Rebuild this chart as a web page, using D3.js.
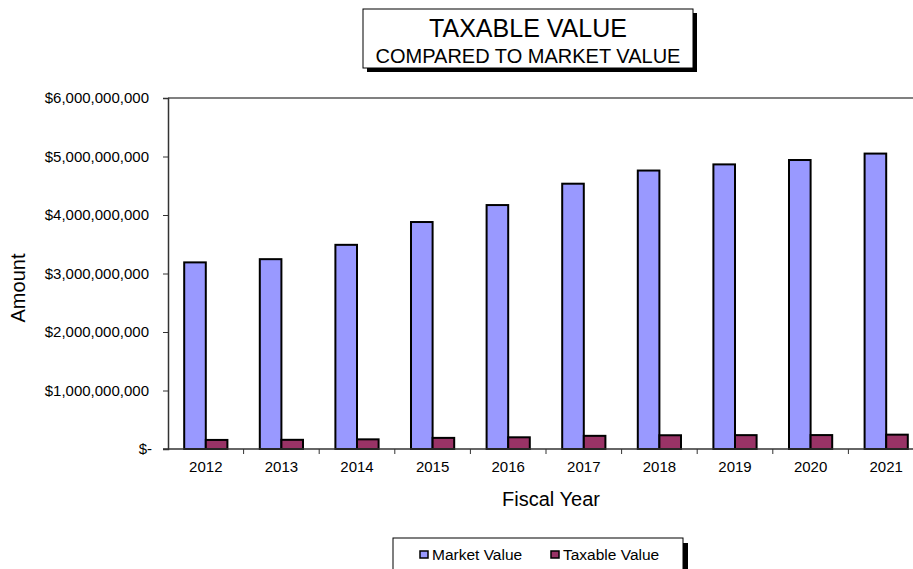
<!DOCTYPE html>
<html>
<head>
<meta charset="utf-8">
<script src="https://cdn.jsdelivr.net/npm/d3@7"></script>
<style>
  body { margin: 0; background: #fff; }
  svg { display: block; font-family: "Liberation Sans", Arial, sans-serif; }
</style>
</head>
<body>
<svg id="chart" width="913" height="569"></svg>
<script>
// data
const years = ["2012", "2013", "2014", "2015", "2016", "2017", "2018", "2019", "2020", "2021"];
const marketValue = [3.19e9, 3.245e9, 3.49e9, 3.88e9, 4.17e9, 4.535e9, 4.76e9, 4.865e9, 4.94e9, 5.05e9];
const taxableValue = [0.155e9, 0.157e9, 0.165e9, 0.19e9, 0.2e9, 0.225e9, 0.235e9, 0.237e9, 0.238e9, 0.245e9];
const seriesNames = ["Market Value", "Taxable Value"];
const yTicks = [0, 1e9, 2e9, 3e9, 4e9, 5e9, 6e9];

const colors = { "Market Value": "#9999FF", "Taxable Value": "#993366" };

const dims = { left: 168, top: 98, right: 924, bottom: 449 };

const svg = d3.select("#chart");

const x = d3.scaleBand().domain(years).range([dims.left, dims.right]).paddingInner(0).paddingOuter(0);
const x1 = d3.scaleBand().domain(seriesNames).range([0, x.bandwidth()]).paddingInner(0).paddingOuter(0.75);
const y = d3.scaleLinear().domain([0, 6e9]).range([dims.bottom, dims.top]);

const rows = years.map((yr, i) => ({ year: yr, values: [
  { name: "Market Value", v: marketValue[i] },
  { name: "Taxable Value", v: taxableValue[i] }
]}));

// plot area top border
svg.append("line").attr("x1", dims.left).attr("x2", 913).attr("y1", dims.top).attr("y2", dims.top)
  .attr("stroke", "#808080").attr("stroke-width", 2);

// y axis
const yAxis = svg.append("g").attr("transform", `translate(${dims.left},0)`)
  .call(d3.axisLeft(y).tickValues(yTicks).tickSize(5).tickPadding(14)
    .tickFormat(d => d === 0 ? "$-" : "$" + d3.format(",")(d)));
yAxis.select(".domain").attr("stroke", "#333").attr("stroke-width", 1.5);
yAxis.selectAll(".tick line").attr("stroke", "#333");
yAxis.selectAll("text").attr("font-size", 15).attr("fill", "#000").attr("font-family", "Liberation Sans, Arial, sans-serif");
yAxis.selectAll(".tick").filter(d => d === 0).select("text").attr("dx", 3);

// bars
const groups = svg.append("g").selectAll("g").data(rows).join("g")
  .attr("transform", d => `translate(${x(d.year)},0)`);
groups.selectAll("rect").data(d => d.values).join("rect")
  .attr("x", d => x1(d.name))
  .attr("y", d => y(d.v))
  .attr("width", x1.bandwidth())
  .attr("height", d => y(0) - y(d.v))
  .attr("fill", d => colors[d.name])
  .attr("stroke", "#000")
  .attr("stroke-width", 2);

// x axis with ticks between categories
const xg = svg.append("g");
xg.append("line").attr("x1", dims.left - 5).attr("x2", 913).attr("y1", dims.bottom).attr("y2", dims.bottom)
  .attr("stroke", "#333").attr("stroke-width", 1.5);
xg.selectAll("line.tk").data(years).join("line").attr("class", "tk")
  .attr("x1", d => x(d) + x.bandwidth()).attr("x2", d => x(d) + x.bandwidth())
  .attr("y1", dims.bottom).attr("y2", dims.bottom + 5).attr("stroke", "#333");
xg.selectAll("text").data(years).join("text")
  .attr("x", d => x(d) + x.bandwidth() / 2).attr("y", 472)
  .attr("text-anchor", "middle").attr("font-size", 15).text(d => d);

// axis titles
svg.append("text").attr("transform", "translate(25,288) rotate(-90)")
  .attr("text-anchor", "middle").attr("font-size", 20).text("Amount");
svg.append("text").attr("x", 551).attr("y", 506)
  .attr("text-anchor", "middle").attr("font-size", 20).text("Fiscal Year");

// title box
const tb = { x: 363, y: 9, w: 330, h: 59 };
svg.append("rect").attr("x", tb.x + 4).attr("y", tb.y + 4).attr("width", tb.w).attr("height", tb.h).attr("fill", "#000");
svg.append("rect").attr("x", tb.x).attr("y", tb.y).attr("width", tb.w).attr("height", tb.h)
  .attr("fill", "#fff").attr("stroke", "#000").attr("stroke-width", 1);
svg.append("text").attr("x", 528).attr("y", 36.5).attr("text-anchor", "middle").attr("font-size", 25).text("TAXABLE VALUE");
svg.append("text").attr("x", 528).attr("y", 63).attr("text-anchor", "middle").attr("font-size", 20).text("COMPARED TO MARKET VALUE");

// legend
const lb = { x: 393, y: 538, w: 290, h: 40 };
svg.append("rect").attr("x", lb.x + 5).attr("y", lb.y + 5).attr("width", lb.w).attr("height", lb.h).attr("fill", "#000");
svg.append("rect").attr("x", lb.x).attr("y", lb.y).attr("width", lb.w).attr("height", lb.h)
  .attr("fill", "#fff").attr("stroke", "#000").attr("stroke-width", 1);
const legendX = [420, 551];
const li = svg.append("g").selectAll("g").data(seriesNames).join("g")
  .attr("transform", (d, i) => `translate(${legendX[i]},0)`);
li.append("rect").attr("x", 0).attr("y", 551).attr("width", 8).attr("height", 7)
  .attr("fill", d => colors[d]).attr("stroke", "#000").attr("stroke-width", 1.5);
li.append("text").attr("x", 12).attr("y", 559.5).attr("font-size", 15.5).text(d => d);
</script>
</body>
</html>
